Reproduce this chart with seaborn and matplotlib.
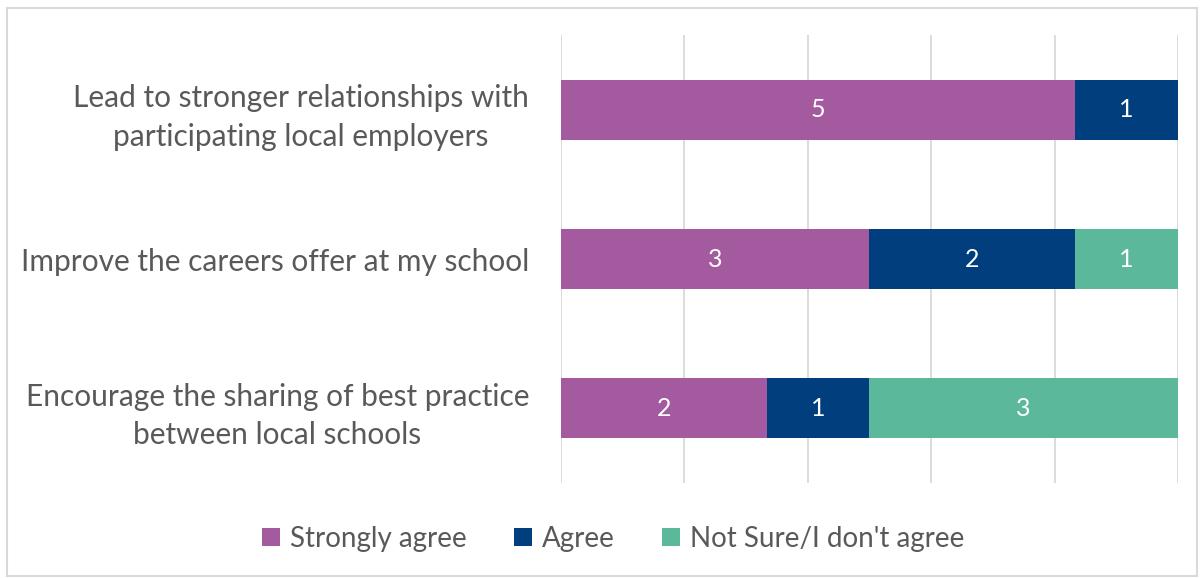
import matplotlib
matplotlib.use("Agg")
import matplotlib.pyplot as plt
from matplotlib.patches import Patch, Rectangle
import seaborn as sns
import numpy as np
import pandas as pd

statements = [
    "Lead to stronger relationships with\nparticipating local employers",
    "Improve the careers offer at my school",
    "Encourage the sharing of best practice\nbetween local schools",
]
series_names = ["Strongly agree", "Agree", "Not Sure/I don't agree"]
strongly_agree = [5, 3, 2]
agree = [1, 2, 1]
not_sure = [0, 1, 3]
colors = ["#A35A9F", "#003E7E", "#5BB89A"]

sns.set_style("white")
plt.rcParams["font.family"] = ["Lato", "DejaVu Sans"]
text_color = "#595959"
grid_color = "#D9D9D9"

counts = np.array([strongly_agree, agree, not_sure], dtype=float)
shares = counts / counts.sum(axis=0) * 100
cum = np.cumsum(shares, axis=0)

fig = plt.figure(figsize=(12.02, 5.78), dpi=100)
ax = fig.add_axes([0.4667, 0.1644, 0.5133, 0.775])

# stacked bars: draw cumulative totals from the outermost layer inwards
for i in reversed(range(len(series_names))):
    df = pd.DataFrame({"statement": statements, "value": cum[i]})
    sns.barplot(data=df, x="value", y="statement", color=colors[i],
                width=0.4, saturation=1, ax=ax, orient="h", zorder=3,
                edgecolor="none", linewidth=0)

# value labels centred in each segment
for i in range(len(series_names)):
    for j in range(len(statements)):
        if counts[i, j] > 0:
            left = cum[i, j] - shares[i, j]
            ax.text(left + shares[i, j] / 2, j, f"{int(counts[i, j])}",
                    ha="center", va="center", color="white", fontsize=18, zorder=4)

ax.set_xlim(0, 100)
ax.set_ylim(2.5, -0.5)
ax.set_xticks(np.arange(0, 101, 20))
ax.xaxis.grid(True, color=grid_color, linewidth=1.3, zorder=0)
ax.set_axisbelow(True)
ax.tick_params(axis="x", length=0, labelbottom=False)
ax.tick_params(axis="y", length=0, pad=23, labelsize=21.5, labelcolor=text_color)
for lbl in ax.get_yticklabels():
    lbl.set_multialignment("center")
    lbl.set_linespacing(1.45)
ax.set_xlabel("")
ax.set_ylabel("")
for s in ax.spines.values():
    s.set_visible(False)

handles = [Patch(facecolor=c, edgecolor="none") for c in colors]
fig.legend(handles, series_names, loc="center", bbox_to_anchor=(0.51, 0.068),
           ncol=3, frameon=False, fontsize=20, labelcolor=text_color,
           handlelength=0.65, handleheight=0.65, handletextpad=0.35, columnspacing=1.7)

fig.patches.append(Rectangle((0.006, 0.003), 0.99, 0.984, transform=fig.transFigure,
                             fill=False, edgecolor=grid_color, linewidth=1.5))

fig.savefig("out.png", dpi=100)
